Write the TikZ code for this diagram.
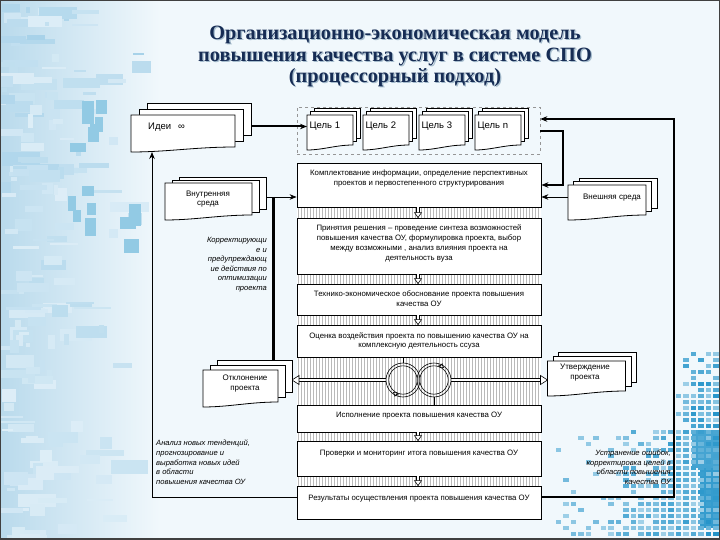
\documentclass[tikz,border=0pt]{standalone}
\usepackage{fontspec}
\setmainfont{Liberation Sans}
\newfontfamily\ttlfont{Liberation Serif}
\usetikzlibrary{calc,arrows.meta}
\definecolor{bgbase}{RGB}{241,248,252}
\definecolor{bgleft}{RGB}{185,218,236}
\definecolor{collage}{RGB}{110,180,218}
\definecolor{pixblue}{RGB}{30,145,200}
\definecolor{pixlight}{RGB}{185,220,238}
\definecolor{titleblue}{RGB}{22,44,84}
\definecolor{titleshadow}{RGB}{165,188,205}
\definecolor{stripegray}{RGB}{185,185,185}
\definecolor{grpgray}{RGB}{150,150,150}

\newcommand\docstack[3]{%
  \foreach \k in {2,1}{%
    \path[docline] let \p1=(#1.north west), \p2=(#1.south east) in
      (\x1+\k*#2,\y1+\k*#3) rectangle (\x2+\k*#2,\y2+5pt+\k*#3);
  }%
  \path[docline] let \p1=(#1.north west), \p2=(#1.south east), \n1={\x2-\x1} in
    (\x1,\y1) -- (\x2,\y1) -- (\x2,\y2+5pt)
    .. controls (\x1+0.62*\n1,\y2+5pt) and (\x1+0.35*\n1,\y2) .. (\x1,\y2) -- cycle;
}

\begin{document}
\begin{tikzpicture}[x=1pt,y=-1pt,
  docline/.style={draw=black, fill=white, line width=0.8pt},
  docn/.style={inner sep=0pt, outer sep=0pt},
  box/.style={draw=black, fill=white, line width=0.8pt, minimum width=244, inner sep=0pt},
  grpbox/.style={draw=grpgray, dashed, line width=0.6pt, inner sep=0pt},
  btxt/.style={font=\fontsize{7.8}{9.9}\selectfont, align=center, inner sep=0pt, anchor=north},
  itxt/.style={font=\fontsize{7.6}{9.6}\selectfont\itshape, inner sep=0pt},
  dtxt/.style={font=\fontsize{8}{9.5}\selectfont, align=center, inner sep=0pt},
  gtxt/.style={font=\fontsize{9.5}{11}\selectfont, inner sep=0pt, anchor=west},
  arr/.style={-{Stealth[length=7pt,width=5.5pt]}},
  thinl/.style={line width=0.8pt},
  dbl/.style={line width=0.6pt, double=white, double distance=2.2pt},
  headst/.style={line width=0.6pt, fill=white}
]
\useasboundingbox (0,0) rectangle (720,540);
% ---------- background ----------
\fill[bgbase] (0,0) rectangle (720,540);
\shade[left color=bgleft, right color=bgbase] (0,0) rectangle (160,540);
\pgfmathsetseed{11}
\foreach \i in {1,...,170}{%
  \pgfmathsetmacro\rx{150*rnd*rnd}
  \pgfmathsetmacro\ry{540*rnd}
  \pgfmathsetmacro\rw{4+rnd*35}
  \pgfmathsetmacro\rh{2+rnd*12}
  \pgfmathsetmacro\rc{15+rnd*45*(1-\ry/700)}
  \fill[collage!\rc!bgbase] (\rx,\ry) rectangle ++(\rw,\rh);
}
\foreach \i in {1,...,14}{%
  \pgfmathsetmacro\rx{60+rnd*70}
  \pgfmathsetmacro\ry{90+rnd*170}
  \pgfmathsetmacro\rw{4+rnd*14}
  \pgfmathsetmacro\rh{4+rnd*20}
  \fill[pixblue!45!bgbase] (\rx,\ry) rectangle ++(\rw,\rh);
}
% pixel pattern, bottom right
\fill[pixblue!75!pixlight] (692,430) rectangle (720,468);
\fill[pixblue!85!pixlight] (700,468) rectangle (720,528);
\foreach \gx in {0,...,23}{%
  \foreach \gy in {0,...,30}{%
    \pgfmathsetmacro\px{548+7.5*\gx}
    \pgfmathsetmacro\py{352+6*\gy}
    \pgfmathsetmacro\aa{(\px-550)/170}
    \pgfmathsetmacro\bb{(\py-350)/190}
    \pgfmathsetmacro\pp{(\py<430 && \px<672) ? 0 : min(1,1.7*\aa*\aa*(0.45+\bb)) + 0.3*\bb*\bb*\bb}
    \pgfmathsetmacro\rr{rnd}
    \pgfmathsetmacro\cc{15+85*rnd*(0.3+0.7*\aa)}
    \pgfmathparse{\rr<\pp ? 1 : 0}
    \ifnum\pgfmathresult=1
      \fill[pixblue!\cc!pixlight] (\px,\py) rectangle ++(5.5,4);
    \fi
  }
}
\draw[black!75, line width=1.2pt] (0.6,0.6) rectangle (719.4,539.4);
\draw[black!75, line width=2pt] (0,538.5) -- (720,538.5);
% ---------- title ----------
\node[font=\ttlfont\bfseries\fontsize{20.3}{21.5}\selectfont, text=titleshadow, align=center] at (396.3,57.8)
  {Организационно-экономическая модель\\повышения качества услуг в системе СПО\\(процессорный подход)};
\node[font=\ttlfont\bfseries\fontsize{20.3}{21.5}\selectfont, text=titleblue, align=center] (title) at (395,56.5)
  {Организационно-экономическая модель\\повышения качества услуг в системе СПО\\(процессорный подход)};
% ---------- striped column ----------
\fill[white] (297,207) rectangle (541,486);
\foreach \x in {298.5,301.5,...,540}{\draw[stripegray, line width=0.45pt] (\x,207) -- (\x,486);}
% ---------- invisible frames of documents ----------
\node[docn, minimum width=104, minimum height=37] (idei) at (183,133.5) {};
\node[grpbox, minimum width=243, minimum height=47] (grp) at (418.5,130.5) {};
\node[docn, minimum width=46, minimum height=35] (c1) at (330,132.5) {};
\node[docn, minimum width=46, minimum height=35] (c2) at (386,132.5) {};
\node[docn, minimum width=46, minimum height=35] (c3) at (442,132.5) {};
\node[docn, minimum width=46, minimum height=35] (c4) at (498,132.5) {};
\node[docn, minimum width=87, minimum height=37] (vnutr) at (208.5,201.5) {};
\node[docn, minimum width=78, minimum height=35] (vnesh) at (607,202.5) {};
\node[docn, minimum width=75, minimum height=37] (otkl) at (240.5,388.5) {};
\node[docn, minimum width=78, minimum height=35] (utv) at (586.5,378.5) {};
% ---------- central boxes ----------
\node[box, minimum height=44] (kompl) at (419,185) {};
\node[box, minimum height=56] (prin) at (419,246) {};
\node[box, minimum height=31] (tech) at (419,299.5) {};
\node[box, minimum height=32] (ocen) at (419,341) {};
\node[box, minimum height=27] (isp) at (419,418.5) {};
\node[box, minimum height=35] (prov) at (419,458.5) {};
\node[box, minimum height=33] (res) at (419,502.5) {};
\node[circle, minimum size=34, inner sep=0pt] (o1) at (403,380) {};
\node[circle, minimum size=34, inner sep=0pt] (o2) at (434,380) {};
% ---------- connectors ----------
\coordinate (c1in) at ([yshift=6pt]c1.west);
\draw[line width=2pt, arr] (c1in -| idei.east) -- (c1in);
\coordinate (frR) at (674,497);
\coordinate (frT) at (674,119);
\coordinate (frL) at (152,497);
\draw[line width=1.6pt, arr] (res.east |- frR) -- (frR) -- (frT) -- (frT -| grp.east);
\draw[thinl, arr] (res.west |- frL) -- (frL) -- (frL |- idei.south);
\coordinate (gk) at (563,131);
\draw[line width=2.4pt, arr] (gk -| grp.east) -- (gk) -- (gk |- kompl.east) -- (kompl.east);
\coordinate (vk) at ([yshift=5.5pt]vnesh.west);
\draw[thinl, arr] (vk) -- (vk -| kompl.east);
\coordinate (vi) at (273,197);
\coordinate (otop) at ([yshift=10pt]otkl.north);
\draw[thinl, arr] (vi -| vnutr.east) -- (vi -| kompl.west);
\draw[line width=3pt] (vi) -- (vi |- otop);
\draw[thinl] (o1.north |- ocen.south) -- (o1.north);
\draw[thinl] (o2.south) -- (o2.south |- isp.north);
% hollow horizontal arrows
\coordinate (otR) at ([xshift=14pt]otkl.east);
\coordinate (hl) at (o1.west -| otR);
\coordinate (hr) at (o2.east -| utv.west);
\draw[dbl, shorten >=4pt] (o1.west) -- (hl);
\draw[headst] (hl) -- ++(7,-4.5) -- ++(0,9) -- cycle;
\draw[dbl, shorten >=4pt] (o2.east) -- (hr);
\draw[headst] (hr) -- ++(-7,-4.5) -- ++(0,9) -- cycle;
% circles
\foreach \c in {o1,o2}{%
  \draw[line width=0.6pt] (\c.center) circle (17);
  \draw[line width=0.6pt] (\c.center) circle (14.2);
}
\draw[line width=0.5pt, -{Triangle[open,length=4.5pt,width=5pt]}] ([shift={(105:15.6)}]o1.center) arc[start angle=105, end angle=130, radius=15.6];
\draw[line width=0.5pt, -{Triangle[open,length=4.5pt,width=5pt]}] ([shift={(285:15.6)}]o2.center) arc[start angle=285, end angle=310, radius=15.6];
% hollow down arrows
\coordinate (ax) at (418,0);
\foreach \a/\b in {kompl/prin, prin/tech, tech/ocen, isp/prov, prov/res}{%
  \draw[dbl, shorten >=3pt] (ax |- \a.south) -- (ax |- \b.north);
  \draw[headst] (ax |- \b.north) -- ++(-3.5,-5) -- ++(7,0) -- cycle;
}
% ---------- document shapes ----------
\docstack{idei}{8pt}{6pt}
\foreach \c in {c1,c2,c3,c4}{\docstack{\c}{3.5pt}{3.5pt}}
\docstack{vnutr}{7pt}{3pt}
\docstack{vnesh}{5.5pt}{3.5pt}
\docstack{otkl}{7pt}{5pt}
\docstack{utv}{5.5pt}{4.5pt}
% ---------- texts ----------
\node[gtxt] at (148,127) {Идеи\hspace{7pt}∞};
\node[gtxt] at ([xshift=2.5pt,yshift=6pt]c1.west) {Цель 1};
\node[gtxt] at ([xshift=2.5pt,yshift=6pt]c2.west) {Цель 2};
\node[gtxt] at ([xshift=2.5pt,yshift=6pt]c3.west) {Цель 3};
\node[gtxt] at ([xshift=2.5pt,yshift=6pt]c4.west) {Цель n};
\node[dtxt, font=\fontsize{8}{9}\selectfont] at (208,199) {Внутренняя\\среда};
\node[dtxt] at (612,197.5) {Внешняя среда};
\node[dtxt] at (245,383.5) {Отклонение\\проекта};
\node[dtxt] at (585,372.5) {Утверждение\\проекта};
\node[btxt] at ([yshift=-7pt]kompl.north) {Комплектование информации, определение перспективных\\проектов и первостепенного структурирования};
\node[btxt] at ([yshift=-7pt]prin.north) {Принятия решения – проведение синтеза возможностей\\повышения качества ОУ, формулировка проекта, выбор\\между возможными , анализ влияния проекта на\\деятельность вуза};
\node[btxt] at ([yshift=-7pt]tech.north) {Технико-экономическое обоснование проекта повышения\\качества ОУ};
\node[btxt] at ([yshift=-7.5pt]ocen.north) {Оценка воздействия проекта по повышению качества ОУ на\\комплексную деятельность ссуза};
\node[btxt] at ([yshift=-7pt]isp.north) {Исполнение проекта повышения качества ОУ};
\node[btxt] at ([yshift=-9pt]prov.north) {Проверки и мониторинг итога повышения качества ОУ};
\node[btxt] at ([yshift=-9pt]res.north) {Результаты осуществления проекта повышения качества ОУ};
\node[itxt, align=right, anchor=north east] at (267,237) {Корректирующи\\е и\\предупреждающ\\ие действия по\\оптимизации\\проекта};
\node[itxt, align=left, anchor=north west] at (156,440) {Анализ новых тенденций,\\прогнозирование и\\выработка новых идей\\в области\\повышения качества ОУ};
\node[itxt, align=right, anchor=north east] at (671,450) {Устранение ошибок,\\корректировка целей в\\области повышения\\качества ОУ};
\end{tikzpicture}
\end{document}
